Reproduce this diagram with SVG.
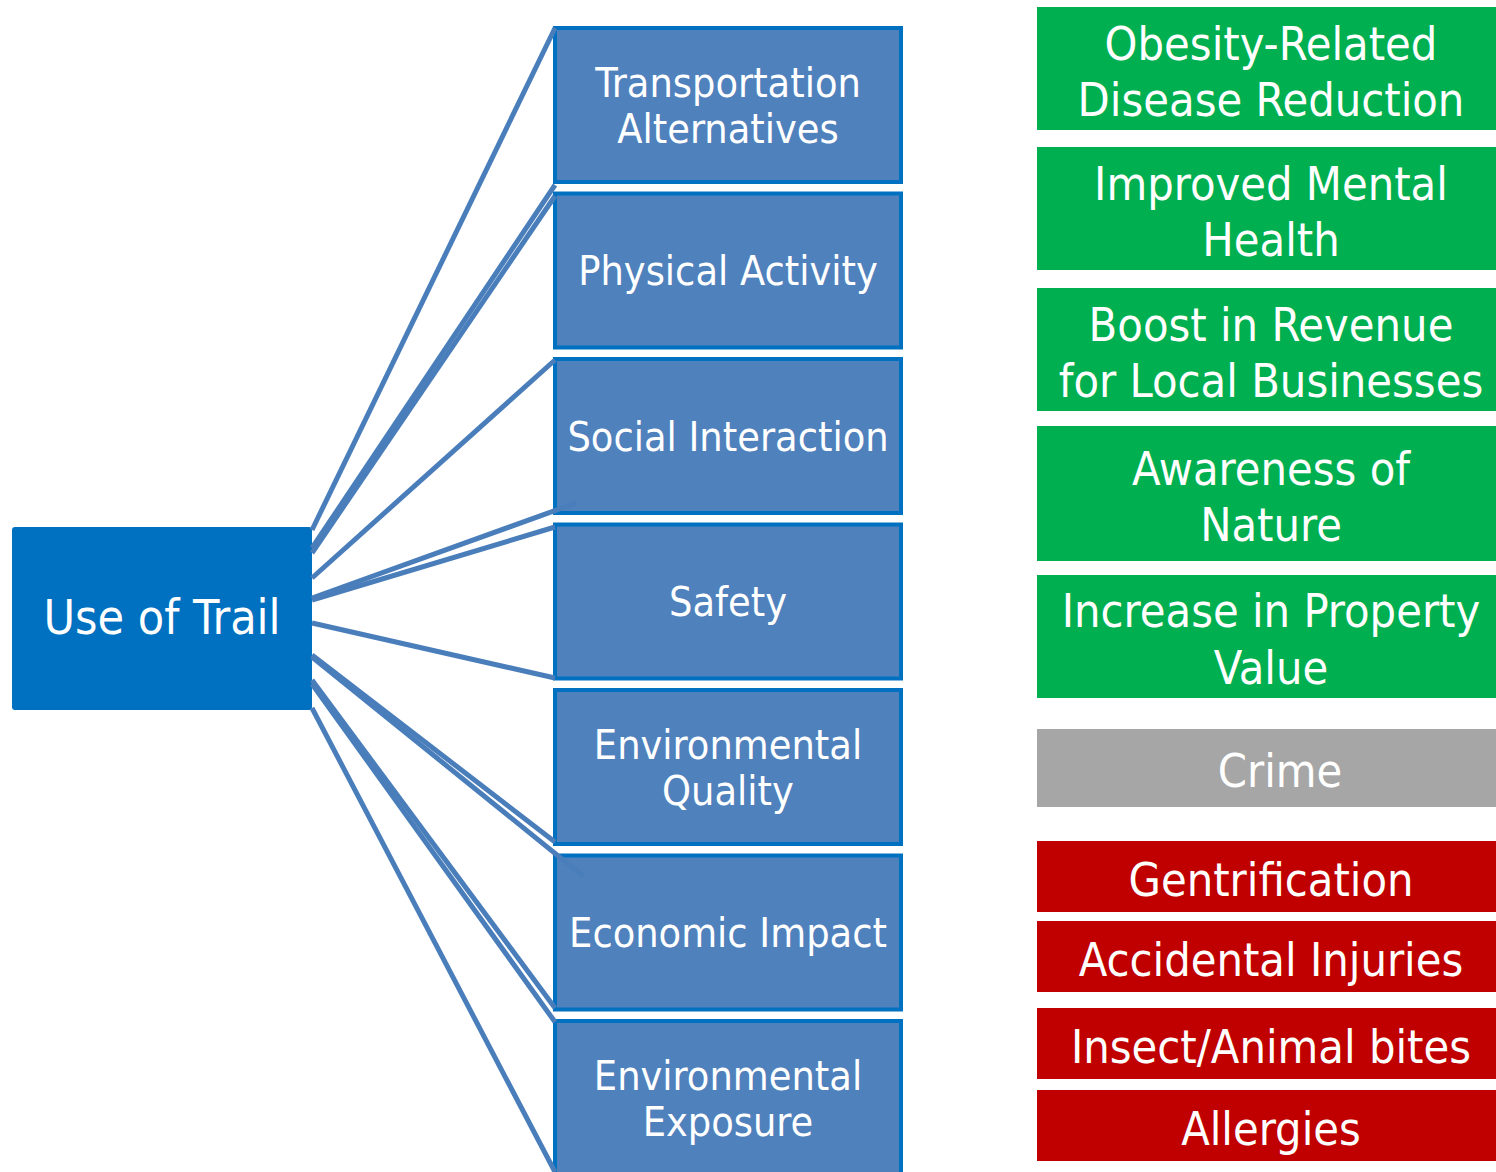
<svg xmlns="http://www.w3.org/2000/svg" width="1496" height="1172" viewBox="0 0 1496 1172">
<style>
text{font-family:"DejaVu Sans Condensed","DejaVu Sans",sans-serif;fill:#fff;text-anchor:middle}
.mid rect{fill:#4F81BD;stroke:#0070C0;stroke-width:4}
.mid text{font-size:41px}
.rt text{font-size:46.5px}
.g{fill:#00B050}.r{fill:#C00000}.gr{fill:#A6A6A6}
#connectors line{stroke:#4A7EBB;stroke-width:5}
</style>
<rect width="1496" height="1172" fill="#fff"/>
<g id="use-of-trail">
<rect x="12" y="527" width="300" height="183" rx="3" fill="#0070C0"/>
<text x="162" y="634" font-size="48">Use of Trail</text>
</g>
<g id="transportation" class="mid">
<rect x="555" y="28" width="346" height="154"/>
<text x="728" y="97">Transportation</text>
<text x="728" y="143">Alternatives</text>
</g>
<g id="physical" class="mid">
<rect x="555" y="193.5" width="346" height="154"/>
<text x="728" y="285">Physical Activity</text>
</g>
<g id="social" class="mid">
<rect x="555" y="359" width="346" height="154"/>
<text x="728" y="451">Social Interaction</text>
</g>
<g id="safety" class="mid">
<rect x="555" y="524.5" width="346" height="154"/>
<text x="728" y="616">Safety</text>
</g>
<g id="env-quality" class="mid">
<rect x="555" y="690" width="346" height="154"/>
<text x="728" y="759">Environmental</text>
<text x="728" y="805">Quality</text>
</g>
<g id="economic" class="mid">
<rect x="555" y="855.5" width="346" height="154"/>
<text x="728" y="947">Economic Impact</text>
</g>
<g id="env-exposure" class="mid">
<rect x="555" y="1021" width="346" height="154"/>
<text x="728" y="1090">Environmental</text>
<text x="728" y="1136">Exposure</text>
</g>
<g id="connectors">
<line x1="312" y1="530" x2="555" y2="28"/>
<line x1="312" y1="548" x2="555" y2="185"/>
<line x1="312" y1="553" x2="555" y2="196"/>
<line x1="312" y1="578" x2="555" y2="360"/>
<line x1="312" y1="598" x2="576" y2="503"/>
<line x1="312" y1="600" x2="555" y2="527"/>
<line x1="312" y1="623" x2="555" y2="678"/>
<line x1="312" y1="655" x2="555" y2="842"/>
<line x1="312" y1="657" x2="583" y2="876"/>
<line x1="312" y1="680" x2="555" y2="1008"/>
<line x1="312" y1="684" x2="555" y2="1022"/>
<line x1="312" y1="708" x2="555" y2="1172"/>
</g>
<g id="obesity" class="rt">
<rect class="g" x="1037" y="7" width="470" height="123"/>
<text x="1271" y="60">Obesity-Related</text>
<text x="1271" y="116">Disease Reduction</text>
</g>
<g id="mental" class="rt">
<rect class="g" x="1037" y="147" width="470" height="123"/>
<text x="1271" y="200">Improved Mental</text>
<text x="1271" y="256">Health</text>
</g>
<g id="revenue" class="rt">
<rect class="g" x="1037" y="288" width="470" height="123"/>
<text x="1271" y="341">Boost in Revenue</text>
<text x="1271" y="397">for Local Businesses</text>
</g>
<g id="nature" class="rt">
<rect class="g" x="1037" y="426" width="470" height="135"/>
<text x="1271" y="485">Awareness of</text>
<text x="1271" y="541">Nature</text>
</g>
<g id="property" class="rt">
<rect class="g" x="1037" y="575" width="470" height="123"/>
<text x="1271" y="627">Increase in Property</text>
<text x="1271" y="684">Value</text>
</g>
<g id="crime" class="rt">
<rect class="gr" x="1037" y="729" width="470" height="78"/>
<text x="1280" y="787">Crime</text>
</g>
<g id="gentrification" class="rt">
<rect class="r" x="1037" y="841" width="470" height="71"/>
<text x="1271" y="896">Gentrification</text>
</g>
<g id="injuries" class="rt">
<rect class="r" x="1037" y="921" width="470" height="71"/>
<text x="1271" y="976">Accidental Injuries</text>
</g>
<g id="bites" class="rt">
<rect class="r" x="1037" y="1008" width="470" height="71"/>
<text x="1271" y="1063">Insect/Animal bites</text>
</g>
<g id="allergies" class="rt">
<rect class="r" x="1037" y="1090" width="470" height="71"/>
<text x="1271" y="1145">Allergies</text>
</g>
</svg>
